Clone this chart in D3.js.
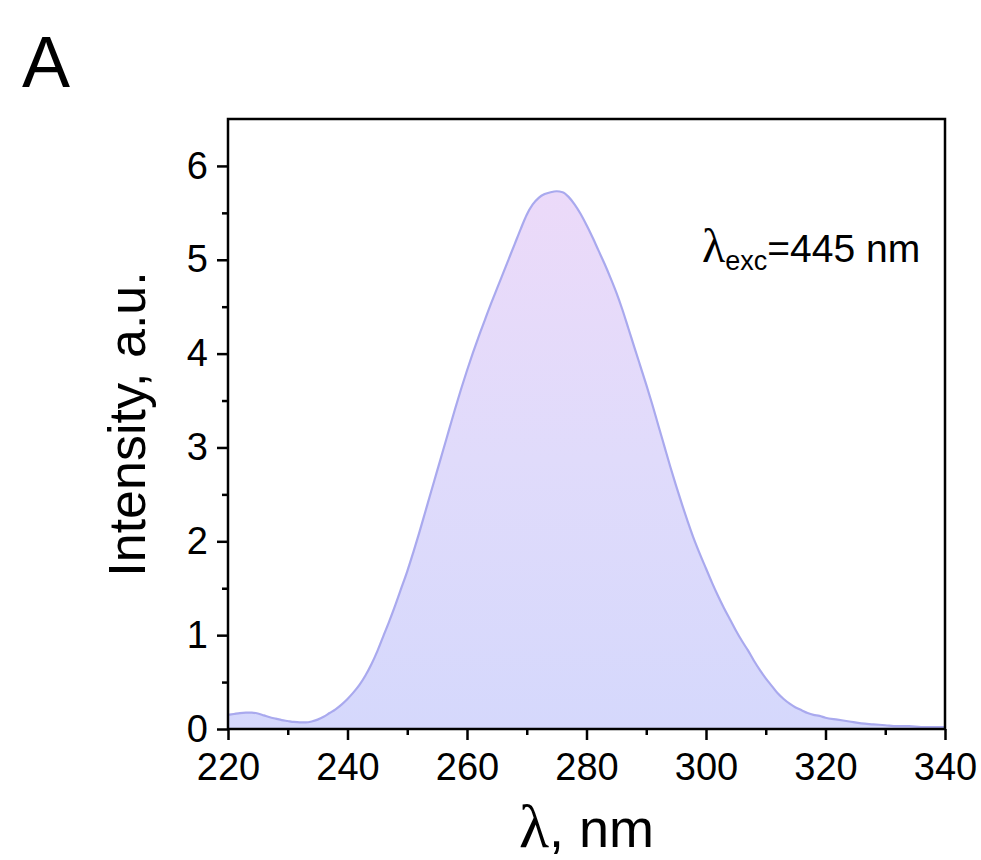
<!DOCTYPE html>
<html>
<head>
<meta charset="utf-8">
<script src="https://cdn.jsdelivr.net/npm/d3@7"></script>
<style>
  body { margin: 0; background: #fff; }
  svg { display: block; }
  text { font-family: "Liberation Sans", Arial, sans-serif; fill: #000; }
</style>
</head>
<body>
<svg id="chart" width="981" height="860"></svg>
<script>
// ---- data ----
const wavelengths = [
  220,221,222,223,224,225,226,227,228,229,230,231,232,233,234,235,236,237,238,239,
  240,241,242,243,244,245,246,247,248,249,250,251,252,253,254,255,256,257,258,259,
  260,261,262,263,264,265,266,267,268,269,270,271,272,273,274,275,276,277,278,279,
  280,281,282,283,284,285,286,287,288,289,290,291,292,293,294,295,296,297,298,299,
  300,301,302,303,304,305,306,307,308,309,310,311,312,313,314,315,316,317,318,319,
  320,322,324,326,328,330,332,334,336,338,340
];
const intensity = [
  0.15,0.16,0.17,0.175,0.175,0.165,0.145,0.125,0.11,0.095,0.085,0.075,0.07,0.07,0.08,0.10,0.13,0.17,0.21,0.26,
  0.32,0.39,0.47,0.57,0.69,0.83,0.99,1.15,1.32,1.50,1.68,1.88,2.09,2.31,2.53,2.75,2.97,3.19,3.41,3.62,
  3.82,4.01,4.19,4.36,4.53,4.69,4.85,5.01,5.17,5.33,5.48,5.59,5.66,5.70,5.72,5.73,5.72,5.67,5.59,5.49,
  5.37,5.24,5.10,4.96,4.81,4.65,4.47,4.27,4.07,3.87,3.67,3.46,3.24,3.02,2.80,2.59,2.39,2.20,2.02,1.86,
  1.71,1.56,1.42,1.29,1.17,1.05,0.94,0.84,0.73,0.63,0.54,0.46,0.38,0.32,0.27,0.23,0.20,0.17,0.15,0.14,
  0.12,0.10,0.08,0.06,0.05,0.04,0.03,0.03,0.02,0.02,0.02
];
const xTicks = [220, 240, 260, 280, 300, 320, 340];
const xMinorTicks = [230, 250, 270, 290, 310, 330];
const yTicks = [0, 1, 2, 3, 4, 5, 6];
const yMinorTicks = [0.5, 1.5, 2.5, 3.5, 4.5, 5.5];
const panelLabel = "A";
const xTitleLambda = "λ";
const xTitleRest = ", nm";
const yTitle = "Intensity, a.u.";
const annotLambda = "λ";
const annotSub = "exc";
const annotRest = "=445 nm";

// ---- layout ----
const svg = d3.select("#chart");
const L = 228, R = 945, T = 119, B = 729;
const x = d3.scaleLinear().domain([220, 340]).range([L, R]);
const y = d3.scaleLinear().domain([0, 6.5]).range([B, T]);

const data = wavelengths.map((w, i) => ({ w, v: intensity[i] }));

// gradient
const defs = svg.append("defs");
const grad = defs.append("linearGradient")
  .attr("id", "fillGrad")
  .attr("gradientUnits", "userSpaceOnUse")
  .attr("x1", 0).attr("x2", 0)
  .attr("y1", y(5.75)).attr("y2", y(0));
grad.append("stop").attr("offset", "0%").attr("stop-color", "#ecdaf9");
grad.append("stop").attr("offset", "50%").attr("stop-color", "#e0dbfb");
grad.append("stop").attr("offset", "100%").attr("stop-color", "#d5d8fc");

defs.append("clipPath").attr("id", "clip")
  .append("rect").attr("x", L).attr("y", T).attr("width", R - L).attr("height", B - T);

const g = svg.append("g").attr("clip-path", "url(#clip)");

g.append("path")
  .datum(data)
  .attr("fill", "url(#fillGrad)")
  .attr("d", d3.area().x(d => x(d.w)).y0(y(0)).y1(d => y(d.v)).curve(d3.curveMonotoneX));

g.append("path")
  .datum(data)
  .attr("fill", "none")
  .attr("stroke", "#a9a9ee")
  .attr("stroke-width", 2.2)
  .attr("d", d3.line().x(d => x(d.w)).y(d => y(d.v)).curve(d3.curveMonotoneX));

// frame
svg.append("rect")
  .attr("x", L).attr("y", T).attr("width", R - L).attr("height", B - T)
  .attr("fill", "none").attr("stroke", "#000").attr("stroke-width", 2.5);

// x axis
const xAxis = svg.append("g").attr("transform", `translate(0,${B})`)
  .call(d3.axisBottom(x).tickValues(xTicks).tickSize(11).tickPadding(13).tickFormat(d3.format("d")));
xAxis.select(".domain").remove();
xAxis.selectAll(".tick line").attr("stroke", "#000").attr("stroke-width", 2.5);
xAxis.selectAll(".tick text").attr("font-size", 38).attr("font-family", "Liberation Sans, Arial, sans-serif");

const xMinor = svg.append("g").attr("transform", `translate(0,${B})`)
  .call(d3.axisBottom(x).tickValues(xMinorTicks).tickSize(6).tickFormat(""));
xMinor.select(".domain").remove();
xMinor.selectAll(".tick line").attr("stroke", "#000").attr("stroke-width", 2.5);

// y axis
const yAxis = svg.append("g").attr("transform", `translate(${L},0)`)
  .call(d3.axisLeft(y).tickValues(yTicks).tickSize(11).tickPadding(9).tickFormat(d3.format("d")));
yAxis.select(".domain").remove();
yAxis.selectAll(".tick line").attr("stroke", "#000").attr("stroke-width", 2.5);
yAxis.selectAll(".tick text").attr("font-size", 38).attr("font-family", "Liberation Sans, Arial, sans-serif");

const yMinor = svg.append("g").attr("transform", `translate(${L},0)`)
  .call(d3.axisLeft(y).tickValues(yMinorTicks).tickSize(6).tickFormat(""));
yMinor.select(".domain").remove();
yMinor.selectAll(".tick line").attr("stroke", "#000").attr("stroke-width", 2.5);

// titles
const xt = svg.append("text")
  .attr("x", (L + R) / 2).attr("y", 847)
  .attr("text-anchor", "middle")
  .attr("font-size", 54);
xt.append("tspan").attr("font-family", "Liberation Serif, Times New Roman, serif").attr("font-size", 62).text(xTitleLambda);
xt.append("tspan").text(xTitleRest);

svg.append("text")
  .attr("transform", `translate(145,${(T + B) / 2}) rotate(-90)`)
  .attr("text-anchor", "middle")
  .attr("font-size", 52)
  .text(yTitle);

svg.append("text")
  .attr("x", 22).attr("y", 87)
  .attr("font-size", 72)
  .text(panelLabel);

// annotation
const an = svg.append("text")
  .attr("x", 702).attr("y", 262)
  .attr("font-size", 39);
an.append("tspan").attr("font-family", "Liberation Serif, Times New Roman, serif").attr("font-size", 48).text(annotLambda);
an.append("tspan").attr("font-size", 27).attr("dy", 8).text(annotSub);
an.append("tspan").attr("dy", -8).text(annotRest);
</script>
</body>
</html>
